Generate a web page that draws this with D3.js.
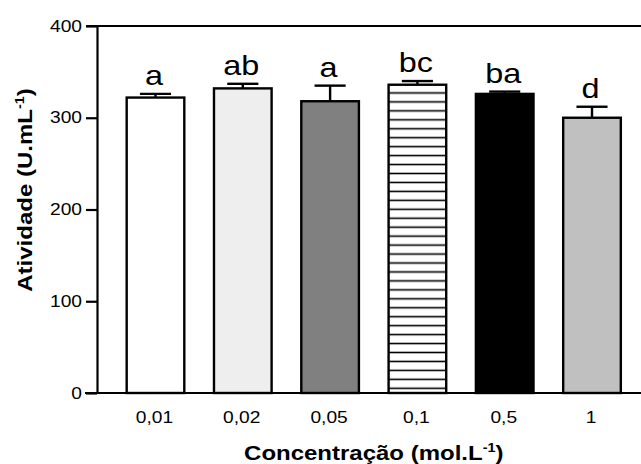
<!DOCTYPE html>
<html>
<head>
<meta charset="utf-8">
<script src="https://cdn.jsdelivr.net/npm/d3@7"></script>
<style>
  html, body { margin: 0; padding: 0; background: #fff; }
  svg { display: block; }
  text { font-family: Arial, "Liberation Sans", Helvetica, sans-serif; fill: #000; }
</style>
</head>
<body>
<div id="chart"></div>
<script>
// Enzyme activity at each concentration
const categories = ["0,01", "0,02", "0,05", "0,1", "0,5", "1"];
const activity = [322, 332, 318, 336, 326, 300];
const errorUp = [4, 5, 17, 4, 2.5, 12];
const groupLetters = ["a", "ab", "a", "bc", "ba", "d"];
const yTicks = [0, 100, 200, 300, 400];
const fills = ["#ffffff", "#eeeeee", "#808080", "hatch", "#000000", "#c0c0c0"];

const W = 641, H = 464;
const SX = 1.2; // wide glyph rendering used for all labels

const svg = d3.select("#chart").append("svg")
  .attr("width", W).attr("height", H);

const x = d3.scaleBand().domain(categories).range([97, 650.5]).padding(0.34);
const y = d3.scaleLinear().domain([0, 400]).range([393, 26]);

// horizontal hatch pattern for the 0,1 bar
const defs = svg.append("defs");
const pat = defs.append("pattern")
  .attr("id", "hatch").attr("patternUnits", "userSpaceOnUse")
  .attr("width", 10).attr("height", 8.95)
  .attr("y", y(0) - 4.7 - 8.95 / 2);
pat.append("rect").attr("width", 10).attr("height", 8.95).attr("fill", "#fff");
pat.append("line").attr("x1", 0).attr("x2", 10)
  .attr("y1", 8.95 / 2).attr("y2", 8.95 / 2)
  .attr("stroke", "#000").attr("stroke-width", 1.6);

// top frame line
svg.append("line")
  .attr("x1", 86).attr("x2", W).attr("y1", y(400)).attr("y2", y(400))
  .attr("stroke", "#000").attr("stroke-width", 2.2);

// y axis
const yAxis = svg.append("g")
  .attr("transform", "translate(97,0)")
  .call(d3.axisLeft(y).tickValues(yTicks).tickSize(11).tickPadding(4).tickSizeOuter(0));
yAxis.select(".domain").attr("stroke", "#000").attr("stroke-width", 2.2);
yAxis.selectAll(".tick line").attr("stroke", "#000").attr("stroke-width", 2.2);
yAxis.selectAll(".tick text")
  .attr("font-size", 16)
  .attr("x", -15 / SX)
  .attr("transform", `scale(${SX},1)`);

// bars
const bars = svg.append("g");
bars.selectAll("rect").data(activity).join("rect")
  .attr("x", (d, i) => x(categories[i]))
  .attr("width", x.bandwidth())
  .attr("y", d => y(d))
  .attr("height", d => y(0) - y(d))
  .attr("fill", (d, i) => fills[i] === "hatch" ? "url(#hatch)" : fills[i])
  .attr("stroke", "#000").attr("stroke-width", 2.4);

// error bars (upper only)
const err = svg.append("g").attr("stroke", "#000").attr("stroke-width", 2.4);
activity.forEach((v, i) => {
  const cx = x(categories[i]) + x.bandwidth() / 2;
  const capHalf = x.bandwidth() * 0.27;
  err.append("line").attr("x1", cx).attr("x2", cx)
    .attr("y1", y(v)).attr("y2", y(v + errorUp[i]));
  err.append("line").attr("x1", cx - capHalf).attr("x2", cx + capHalf)
    .attr("y1", y(v + errorUp[i])).attr("y2", y(v + errorUp[i]));
});

// x axis
const xAxis = svg.append("g")
  .attr("transform", `translate(0,${y(0)})`)
  .call(d3.axisBottom(x).tickSize(0).tickPadding(19));
xAxis.select(".domain").remove();
svg.append("line")
  .attr("x1", 85).attr("x2", W).attr("y1", y(0)).attr("y2", y(0))
  .attr("stroke", "#000").attr("stroke-width", 2.2);
xAxis.selectAll(".tick text")
  .attr("font-size", 16)
  .attr("transform", `scale(${SX},1)`)
  .attr("x", 0);
xAxis.selectAll(".tick").each(function(d) {
  const cx = x(d) + x.bandwidth() / 2 - 1;
  d3.select(this).attr("transform", `translate(${cx},0)`);
});

// significance letters
const lettersG = svg.append("g");
activity.forEach((v, i) => {
  const cx = x(categories[i]) + x.bandwidth() / 2 - 1.5;
  lettersG.append("text")
    .attr("transform", `translate(${cx},${y(v + errorUp[i]) - 9}) scale(${SX},1)`)
    .attr("text-anchor", "middle")
    .attr("font-size", 27)
    .text(groupLetters[i]);
});

// axis titles
function titleWithSup(g, main, sup, tail) {
  const t = g.append("text").attr("text-anchor", "middle")
    .attr("font-size", 20).attr("font-weight", "bold");
  t.append("tspan").text(main);
  t.append("tspan").attr("font-size", 12).attr("baseline-shift", "70%").text(sup);
  t.append("tspan").text(tail);
  return t;
}

const xTitle = svg.append("g")
  .attr("transform", `translate(${(x.range()[0] + x.range()[1]) / 2},460) scale(${SX},1)`);
titleWithSup(xTitle, "Concentração (mol.L", "-1", ")");

const yTitle = svg.append("g")
  .attr("transform", `translate(32,190) rotate(-90) scale(${SX},1)`);
titleWithSup(yTitle, "Atividade (U.mL", "-1", ")");
</script>
</body>
</html>
